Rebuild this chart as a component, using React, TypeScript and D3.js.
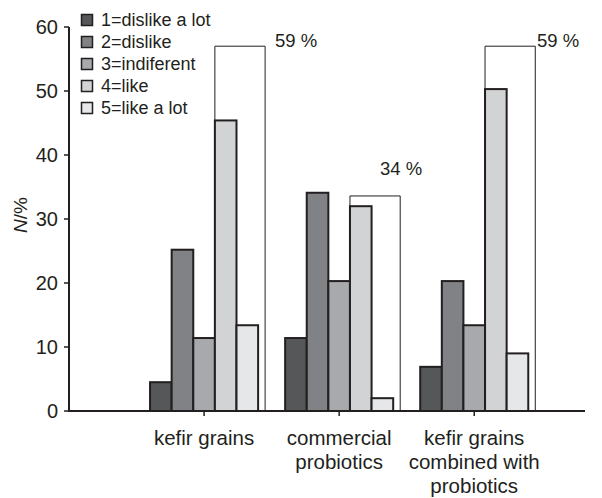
import React from "react";
import * as d3 from "d3";

const categories: string[][] = [["kefir grains"], ["commercial", "probiotics"], ["kefir grains", "combined with", "probiotics"]];
const seriesNames = ["1=dislike a lot", "2=dislike", "3=indiferent", "4=like", "5=like a lot"];
const seriesColors = ["#555759", "#808285", "#a7a9ac", "#d1d3d4", "#e6e7e8"];
const values: number[][] = [
  [4.5, 25.2, 11.4, 45.4, 13.4],
  [11.4, 34.1, 20.3, 32.0, 2.0],
  [6.9, 20.3, 13.4, 50.3, 9.0],
];
const bracketHeights = [57, 33.6, 57];
const bracketLabels = ["59 %", "34 %", "59 %"];
const yTicks = [0, 10, 20, 30, 40, 50, 60];

export default function App() {
  const W = 602, H = 498;
  const x0 = 69, x1 = 585;
  const y = d3.scaleLinear().domain([0, 60]).range([411, 27]);
  const x = d3.scaleLinear().domain([0, 3.82]).range([x0, x1]);
  const groupW = (x(1) - x(0)) * 0.8;
  const inner = d3.scaleBand<number>().domain(d3.range(5)).range([-groupW / 2, groupW / 2]).padding(0);
  const font = "Liberation Sans, Arial, sans-serif";
  const ink = "#231f20";
  return (
    <svg width={W} height={H} style={{ position: "absolute", left: 0, top: 0, background: "#fff" }} fontFamily={font}>
      {/* bars */}
      {values.map((vals, ci) => {
        const cx = x(ci + 1);
        const bx4 = cx + (inner(3) as number);
        const bx5r = cx + (inner(4) as number) + inner.bandwidth();
        return (
          <g key={ci}>
            <path
              d={`M${bx4},${y(0)}V${y(bracketHeights[ci])}H${bx5r + 7}V${y(0)}`}
              fill="none"
              stroke={ink}
              strokeWidth={1}
            />
            {vals.map((v, si) => (
              <rect
                key={si}
                x={cx + (inner(si) as number)}
                y={y(v)}
                width={inner.bandwidth()}
                height={y(0) - y(v)}
                fill={seriesColors[si]}
                stroke={ink}
                strokeWidth={2}
              />
            ))}
          </g>
        );
      })}
      {/* bracket labels */}
      <text x={275} y={47} fontSize={18.5} fill={ink}>{bracketLabels[0]}</text>
      <text x={380} y={175} fontSize={18.5} fill={ink}>{bracketLabels[1]}</text>
      <text x={537} y={47} fontSize={18.5} fill={ink}>{bracketLabels[2]}</text>
      {/* axes */}
      <line x1={x0} x2={x1} y1={y(0)} y2={y(0)} stroke={ink} strokeWidth={2} />
      <line x1={x0} x2={x0} y1={y(0) + 1} y2={y(60)} stroke={ink} strokeWidth={2} />
      {yTicks.map((t) => (
        <g key={t}>
          <line x1={x0 - 5} x2={x0} y1={y(t)} y2={y(t)} stroke={ink} strokeWidth={1.5} />
          <text x={x0 - 11} y={y(t)} dy="0.36em" textAnchor="end" fontSize={20} fill={ink}>{t}</text>
        </g>
      ))}
      {categories.map((lines, ci) => (
        <g key={ci}>
          <line x1={x(ci + 1)} x2={x(ci + 1)} y1={y(0)} y2={y(0) + 5} stroke={ink} strokeWidth={1.5} />
          {lines.map((l, li) => (
            <text key={li} x={x(ci + 1)} y={445 + li * 24} textAnchor="middle" fontSize={20.5} fill={ink}>{l}</text>
          ))}
        </g>
      ))}
      <text transform={`translate(27,${y(30) - 4}) rotate(-90)`} textAnchor="middle" fontSize={19} fill={ink}>
        <tspan fontStyle="italic">N</tspan>/%
      </text>
      {/* legend */}
      {seriesNames.map((n, i) => (
        <g key={i} transform={`translate(81,${20 + i * 22})`}>
          <rect x={0.5} y={-5.5} width={11} height={11} fill={seriesColors[i]} stroke={ink} strokeWidth={1.5} />
          <text x={20} y={0} dy="0.36em" fontSize={18} fill={ink}>{n}</text>
        </g>
      ))}
    </svg>
  );
}
